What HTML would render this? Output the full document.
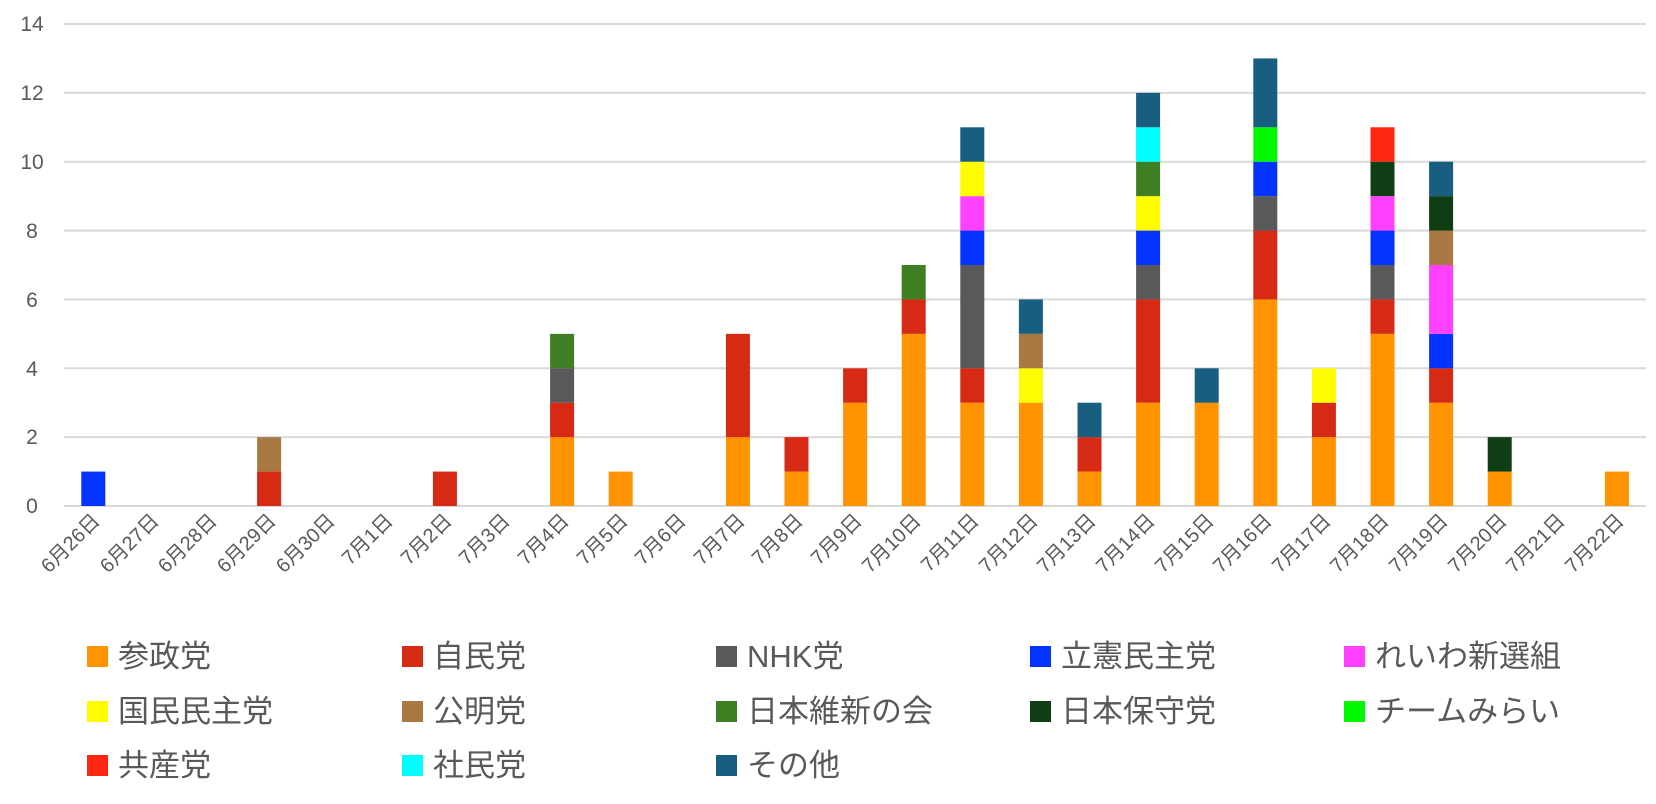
<!DOCTYPE html>
<html><head><meta charset="utf-8"><style>
html,body{margin:0;padding:0;background:#fff;}
svg{display:block;font-family:"Liberation Sans","Noto Sans CJK JP",sans-serif;}
.yl{font-size:21px;fill:#595959;text-anchor:middle}
.xl{font-size:20px;fill:#595959;text-anchor:end}
.lg{font-size:31px;fill:#595959}
</style></head><body>
<svg id="c" width="1656" height="804" viewBox="0 0 1656 804">
<g stroke="#d9d9d9" stroke-width="2">
<line x1="64" x2="1646" y1="24" y2="24"/><line x1="64" x2="1646" y1="92.9" y2="92.9"/>
<line x1="64" x2="1646" y1="161.7" y2="161.7"/><line x1="64" x2="1646" y1="230.6" y2="230.6"/>
<line x1="64" x2="1646" y1="299.4" y2="299.4"/><line x1="64" x2="1646" y1="368.3" y2="368.3"/>
<line x1="64" x2="1646" y1="437.1" y2="437.1"/><line x1="64" x2="1646" y1="506" y2="506"/>
</g>
<g class="yl">
<text x="32" y="31">14</text><text x="32" y="100">12</text><text x="32" y="169">10</text>
<text x="32" y="238">8</text><text x="32" y="307">6</text><text x="32" y="376">4</text>
<text x="32" y="444">2</text><text x="32" y="513">0</text>
</g>
<g id="bars"></g>
<g class="xl">
<text transform="translate(101,522) rotate(-45)">6月26日</text>
<text transform="translate(160,522) rotate(-45)">6月27日</text>
<text transform="translate(218,522) rotate(-45)">6月28日</text>
<text transform="translate(277,522) rotate(-45)">6月29日</text>
<text transform="translate(336,522) rotate(-45)">6月30日</text>
<text transform="translate(394,522) rotate(-45)">7月1日</text>
<text transform="translate(453,522) rotate(-45)">7月2日</text>
<text transform="translate(511,522) rotate(-45)">7月3日</text>
<text transform="translate(570,522) rotate(-45)">7月4日</text>
<text transform="translate(629,522) rotate(-45)">7月5日</text>
<text transform="translate(687,522) rotate(-45)">7月6日</text>
<text transform="translate(746,522) rotate(-45)">7月7日</text>
<text transform="translate(804,522) rotate(-45)">7月8日</text>
<text transform="translate(863,522) rotate(-45)">7月9日</text>
<text transform="translate(922,522) rotate(-45)">7月10日</text>
<text transform="translate(980,522) rotate(-45)">7月11日</text>
<text transform="translate(1039,522) rotate(-45)">7月12日</text>
<text transform="translate(1097,522) rotate(-45)">7月13日</text>
<text transform="translate(1156,522) rotate(-45)">7月14日</text>
<text transform="translate(1215,522) rotate(-45)">7月15日</text>
<text transform="translate(1273,522) rotate(-45)">7月16日</text>
<text transform="translate(1332,522) rotate(-45)">7月17日</text>
<text transform="translate(1390,522) rotate(-45)">7月18日</text>
<text transform="translate(1449,522) rotate(-45)">7月19日</text>
<text transform="translate(1508,522) rotate(-45)">7月20日</text>
<text transform="translate(1566,522) rotate(-45)">7月21日</text>
<text transform="translate(1625,522) rotate(-45)">7月22日</text>
</g>
<g>
<rect x="87" y="646" width="21" height="21" fill="#ff9300"/><text class="lg" x="118" y="667">参政党</text>
<rect x="402" y="646" width="21" height="21" fill="#d62a14"/><text class="lg" x="433" y="667">自民党</text>
<rect x="716" y="646" width="21" height="21" fill="#595959"/><text class="lg" x="747" y="667">NHK党</text>
<rect x="1030" y="646" width="21" height="21" fill="#0433ff"/><text class="lg" x="1061" y="667">立憲民主党</text>
<rect x="1344" y="646" width="21" height="21" fill="#ff40ff"/><text class="lg" x="1375" y="667">れいわ新選組</text>
<rect x="87" y="701" width="21" height="21" fill="#fffb00"/><text class="lg" x="118" y="722">国民民主党</text>
<rect x="402" y="701" width="21" height="21" fill="#aa7942"/><text class="lg" x="433" y="722">公明党</text>
<rect x="716" y="701" width="21" height="21" fill="#3f7f24"/><text class="lg" x="747" y="722">日本維新の会</text>
<rect x="1030" y="701" width="21" height="21" fill="#0f3d14"/><text class="lg" x="1061" y="722">日本保守党</text>
<rect x="1344" y="701" width="21" height="21" fill="#00f900"/><text class="lg" x="1375" y="722">チームみらい</text>
<rect x="87" y="755" width="21" height="21" fill="#ff2712"/><text class="lg" x="118" y="776">共産党</text>
<rect x="402" y="755" width="21" height="21" fill="#00fdff"/><text class="lg" x="433" y="776">社民党</text>
<rect x="716" y="755" width="21" height="21" fill="#185e80"/><text class="lg" x="747" y="776">その他</text>
</g>
</svg>
<script>
var C=["#ff9300","#d62a14","#595959","#0433ff","#ff40ff","#fffb00","#aa7942","#3f7f24","#0f3d14","#00f900","#ff2712","#00fdff","#185e80"];
var D={0:[[3,1]],3:[[1,1],[6,1]],6:[[1,1]],8:[[0,2],[1,1],[2,1],[7,1]],9:[[0,1]],
11:[[0,2],[1,3]],12:[[0,1],[1,1]],13:[[0,3],[1,1]],14:[[0,5],[1,1],[7,1]],
15:[[0,3],[1,1],[2,3],[3,1],[4,1],[5,1],[12,1]],16:[[0,3],[5,1],[6,1],[12,1]],
17:[[0,1],[1,1],[12,1]],18:[[0,3],[1,3],[2,1],[3,1],[5,1],[7,1],[11,1],[12,1]],
19:[[0,3],[12,1]],20:[[0,6],[1,2],[2,1],[3,1],[9,1],[12,2]],21:[[0,2],[1,1],[5,1]],
22:[[0,5],[1,1],[2,1],[3,1],[4,1],[8,1],[10,1]],23:[[0,3],[1,1],[3,1],[4,2],[6,1],[8,1],[12,1]],
24:[[0,1],[8,1]],26:[[0,1]]};
var u=(506-24)/14,g=document.getElementById("bars"),s="";
for(var k in D){var x=64+58.6*(+k+0.5)-12,v=0;D[k].forEach(function(p){var y0=506-v*u;v+=p[1];var y1=506-v*u;
s+='<rect x="'+x+'" y="'+y1+'" width="24" height="'+(y0-y1)+'" fill="'+C[p[0]]+'"/>';});}
g.innerHTML=s;
</script>
</body></html>
